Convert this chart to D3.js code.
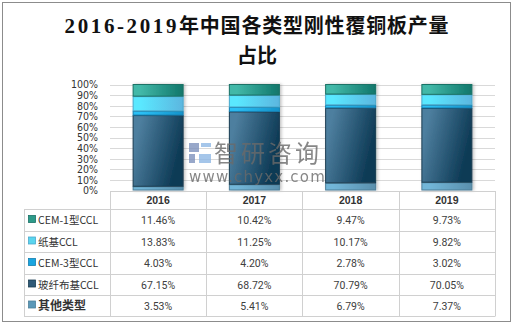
<!DOCTYPE html>
<html><head><meta charset="utf-8">
<script src="https://cdn.jsdelivr.net/npm/d3@7"></script>
<style>body{margin:0;background:#fff}svg{display:block}</style>
</head><body>
<svg id="c" width="514" height="328"></svg>
<script>
const years = ["2016","2017","2018","2019"];
const seriesNames = ["其他类型","玻纤布基CCL","CEM-3型CCL","纸基CCL","CEM-1型CCL"];
const other   = [3.53, 5.41, 6.79, 7.37];
const glass   = [67.15, 68.72, 70.79, 70.05];
const cem3    = [4.03, 4.20, 2.78, 3.02];
const paper   = [13.83, 11.25, 10.17, 9.82];
const cem1    = [11.46, 10.42, 9.47, 9.73];
const tableOrder = ["CEM-1型CCL","纸基CCL","CEM-3型CCL","玻纤布基CCL","其他类型"];
const yTicks = [0,0.1,0.2,0.3,0.4,0.5,0.6,0.7,0.8,0.9,1];

const valuesBy = {"其他类型":other,"玻纤布基CCL":glass,"CEM-3型CCL":cem3,"纸基CCL":paper,"CEM-1型CCL":cem1};
const style = {
  "其他类型":   {a:"#72b6d8", b:"#5a90ad", s:"#4d7f99", m:"#5b98b8"},
  "玻纤布基CCL":{a:"#4e7f9f", b:"#0d3a55", s:"#1b3d52", m:"#2f5a78"},
  "CEM-3型CCL": {a:"#2cc0f5", b:"#1592c9", s:"#137fb0", m:"#1aa5e0"},
  "纸基CCL":    {a:"#5ae8ff", b:"#5bb6df", s:"#4aa9cc", m:"#5ad5ee"},
  "CEM-1型CCL": {a:"#42b8a8", b:"#10766a", s:"#1a7266", m:"#2d9b8a"}
};

const svg = d3.select("#c");
svg.append("rect").attr("width",514).attr("height",328).attr("fill","#fff");
svg.append("rect").attr("x",2.5).attr("y",2.5).attr("width",508).attr("height",319)
  .attr("fill","none").attr("stroke","#8c8c8c").attr("stroke-width",1);

// title
const t1 = svg.append("text").attr("x",257).attr("y",33).attr("text-anchor","middle")
  .attr("font-size",20).attr("font-weight","bold").attr("fill","#111")
  .attr("font-family","'Liberation Serif','Noto Sans CJK SC',serif");
t1.append("tspan").attr("font-size",21).attr("letter-spacing","2.6px").text("2016-2019");
t1.append("tspan").attr("font-family","'Noto Sans CJK SC'").attr("font-weight","600").attr("letter-spacing","0.8px").text("年中国各类型刚性覆铜板产量");
svg.append("text").attr("x",257).attr("y",63).attr("text-anchor","middle")
  .attr("font-size",20).attr("font-weight","600").attr("fill","#111")
  .attr("font-family","'Noto Sans CJK SC',serif").text("占比");

const x = d3.scaleBand().domain(years).range([110,495]).paddingInner(0.47).paddingOuter(0.235);
const y = d3.scaleLinear().domain([0,1]).range([190.5,84.5]);

// gridlines
svg.append("g").selectAll("line").data(yTicks).join("line")
  .attr("x1",110).attr("x2",495).attr("y1",d=>Math.round(y(d))+0.5).attr("y2",d=>Math.round(y(d))+0.5)
  .attr("stroke","#d9d9d9");

// y axis labels
const ya = svg.append("g").attr("transform","translate(100,0)")
  .call(d3.axisLeft(y).tickValues(yTicks).tickFormat(d3.format(".0%")).tickSize(0).tickPadding(2));
ya.select(".domain").remove();
ya.selectAll("text").attr("font-size",10.5).attr("fill","#333")
  .attr("font-family","'DejaVu Sans Condensed','DejaVu Sans',sans-serif");

// gradients
const defs = svg.append("defs");
seriesNames.forEach((n,i)=>{
  const g = defs.append("linearGradient").attr("id","g"+i)
    .attr("x1","0").attr("y1","0").attr("x2","1").attr("y2", n==="玻纤布基CCL"?"0.35":"0");
  g.append("stop").attr("offset","0.15").attr("stop-color",style[n].a);
  g.append("stop").attr("offset","1").attr("stop-color",style[n].b);
});
const sh = defs.append("filter").attr("id","sh").attr("x","-20%").attr("y","-5%").attr("width","140%").attr("height","110%");
sh.append("feDropShadow").attr("dx",1.5).attr("dy",0).attr("stdDeviation",1.5).attr("flood-color","#000").attr("flood-opacity",0.25);

// stacked data
const rows = years.map((yr,i)=>{const o={year:yr}; seriesNames.forEach(n=>o[n]=valuesBy[n][i]/100); return o;});
const stack = d3.stack().keys(seriesNames)(rows);
const bars = svg.append("g").attr("filter","url(#sh)");
stack.forEach((layer,i)=>{
  const n = seriesNames[i];
  bars.append("g").selectAll("rect").data(layer).join("rect")
    .attr("x",d=>x(d.data.year)+0.5)
    .attr("width",x.bandwidth()-1)
    .attr("y",d=>y(d[1]))
    .attr("height",d=>Math.max(0,y(d[0])-y(d[1])-0.5))
    .attr("fill","url(#g"+i+")")
    .attr("stroke",style[n].s).attr("stroke-width",1);
});

// watermark
const wm = svg.append("g").attr("opacity",0.8);
wm.append("rect").attr("x",189).attr("y",143).attr("width",10).attr("height",9).attr("fill","#7f93bd");
wm.append("rect").attr("x",189).attr("y",154).attr("width",6).attr("height",9).attr("fill","#7f93bd");
wm.append("rect").attr("x",201).attr("y",143).attr("width",10).attr("height",4).attr("fill","#8fb8e6");
wm.append("rect").attr("x",199).attr("y",154).attr("width",12).attr("height",9).attr("fill","#8fb8e6");
wm.append("text").attr("x",214).attr("y",162).attr("font-size",24).attr("fill","#6a6a6a")
  .attr("font-family","'Noto Sans CJK SC'").attr("letter-spacing","3px").text("智研咨询");
wm.append("text").attr("x",189).attr("y",182).attr("font-size",15).attr("fill","#6a6a6a")
  .attr("font-family","'DejaVu Sans',sans-serif").attr("letter-spacing","1.2px").text("www.chyxx.com");

// table
const colX = [24,110,206,302,399,495];
const rowY = [191,209,231,252,274,295,316];
const tg = svg.append("g").attr("stroke","#d0d0d0").attr("stroke-width",1);
tg.append("line").attr("x1",110).attr("x2",495).attr("y1",191.5).attr("y2",191.5);
rowY.slice(1).forEach(yy=>tg.append("line").attr("x1",24).attr("x2",495).attr("y1",yy+0.5).attr("y2",yy+0.5));
colX.forEach((xx,i)=>tg.append("line").attr("x1",xx+0.5).attr("x2",xx+0.5)
  .attr("y1",i===0?209:191).attr("y2",316.5));

svg.append("g").selectAll("text").data(years).join("text")
  .attr("x",d=>x(d)+x.bandwidth()/2).attr("y",(rowY[0]+rowY[1])/2+4)
  .attr("text-anchor","middle").attr("font-size",10.5).attr("font-weight","bold").attr("fill","#333")
  .attr("font-family","'Liberation Sans',sans-serif").text(d=>d);

tableOrder.forEach((n,r)=>{
  const cy = (rowY[r+1]+rowY[r+2])/2;
  svg.append("rect").attr("x",28.5).attr("y",cy-4.5).attr("width",7).attr("height",7)
    .attr("fill",style[n].m).attr("stroke",style[n].s).attr("stroke-width",0.8);
  svg.append("text").attr("x",38).attr("y",cy+4).attr("font-size",n==="其他类型"?12:10.5)
    .attr("font-weight",n==="其他类型"?"bold":"normal")
    .attr("fill","#333").attr("font-family","'Noto Sans CJK SC',sans-serif").text(n);
  svg.append("g").selectAll("text").data(years).join("text")
    .attr("x",d=>x(d)+x.bandwidth()/2).attr("y",cy+4).attr("text-anchor","middle")
    .attr("font-size",10.5).attr("fill","#404040").attr("font-family","'Roboto',sans-serif")
    .text((d,i)=>valuesBy[n][i].toFixed(2)+"%");
});
</script>
</body></html>
